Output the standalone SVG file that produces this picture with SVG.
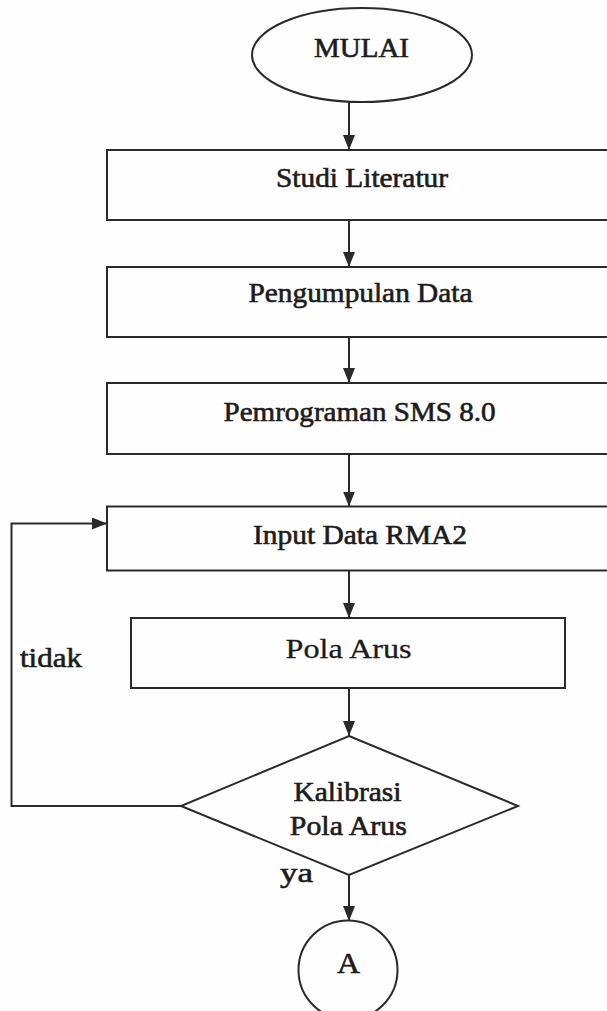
<svg xmlns="http://www.w3.org/2000/svg" width="607" height="1011" viewBox="0 0 607 1011">
<style>
.shape{fill:none;stroke:#2a2a2a;stroke-width:2}
.conn{fill:none;stroke:#2a2a2a;stroke-width:2}
.t{font-family:"Liberation Serif","Times New Roman",serif;fill:#1c1c1c;stroke:#1c1c1c;stroke-width:0.6;text-anchor:middle;font-size:27px}
.lbl{text-anchor:start}
</style>
<defs>
<marker id="arrow" markerUnits="userSpaceOnUse" markerWidth="16" markerHeight="14" refX="15" refY="6" orient="auto">
<path d="M0,0 L15,6 L0,12 Z" fill="#2a2a2a"/>
</marker>
</defs>
<rect width="607" height="1011" fill="#fefefe"/>
<g id="connectors">
<line class="conn" x1="349" y1="102" x2="349" y2="150" marker-end="url(#arrow)"/>
<line class="conn" x1="349" y1="220" x2="349" y2="267" marker-end="url(#arrow)"/>
<line class="conn" x1="349" y1="337" x2="349" y2="383" marker-end="url(#arrow)"/>
<line class="conn" x1="349" y1="454" x2="349" y2="506.5" marker-end="url(#arrow)"/>
<line class="conn" x1="349" y1="570.5" x2="349" y2="618" marker-end="url(#arrow)"/>
<line class="conn" x1="349" y1="688" x2="349" y2="736" marker-end="url(#arrow)"/>
<polyline class="conn" points="181,806 11.5,806 11.5,523.5 107,523.5" marker-end="url(#arrow)"/>
<line class="conn" x1="349" y1="875" x2="349" y2="921" marker-end="url(#arrow)"/>
<text class="t lbl" x="20" y="667" style="font-size:28px" textLength="62" lengthAdjust="spacingAndGlyphs">tidak</text>
<text class="t lbl" x="280" y="882" style="font-size:28px" textLength="33" lengthAdjust="spacingAndGlyphs">ya</text>
</g>
<g id="mulai">
<ellipse class="shape" cx="362" cy="55" rx="110" ry="47"/>
<text class="t" x="361.5" y="57" textLength="95" lengthAdjust="spacingAndGlyphs">MULAI</text>
</g>
<g id="studi">
<rect class="shape" x="107" y="150" width="505" height="70"/>
<text class="t" x="362" y="187" textLength="172" lengthAdjust="spacingAndGlyphs">Studi Literatur</text>
</g>
<g id="pengumpulan">
<rect class="shape" x="107" y="267" width="505" height="70"/>
<text class="t" x="360.5" y="302" textLength="224" lengthAdjust="spacingAndGlyphs">Pengumpulan Data</text>
</g>
<g id="pemrograman">
<rect class="shape" x="107" y="383" width="505" height="71"/>
<text class="t" x="359.5" y="421" textLength="272" lengthAdjust="spacingAndGlyphs">Pemrograman SMS 8.0</text>
</g>
<g id="input">
<rect class="shape" x="107" y="506.5" width="505" height="64"/>
<text class="t" x="360" y="544" textLength="214" lengthAdjust="spacingAndGlyphs">Input Data RMA2</text>
</g>
<g id="pola">
<rect class="shape" x="131" y="618" width="434" height="70"/>
<text class="t" x="348.5" y="658" style="font-size:28px;stroke-width:0.3" textLength="126" lengthAdjust="spacingAndGlyphs">Pola Arus</text>
</g>
<g id="kalibrasi">
<polygon class="shape" points="349,736 518,806 349,875 181,806"/>
<text class="t" x="347.5" y="801" textLength="108" lengthAdjust="spacingAndGlyphs">Kalibrasi</text>
<text class="t" x="348.3" y="835" textLength="117" lengthAdjust="spacingAndGlyphs">Pola Arus</text>
</g>
<g id="a">
<circle class="shape" cx="348" cy="970" r="49.5"/>
<text class="t" x="348.5" y="972.5" style="font-size:30px" textLength="23" lengthAdjust="spacingAndGlyphs">A</text>
</g>
</svg>
